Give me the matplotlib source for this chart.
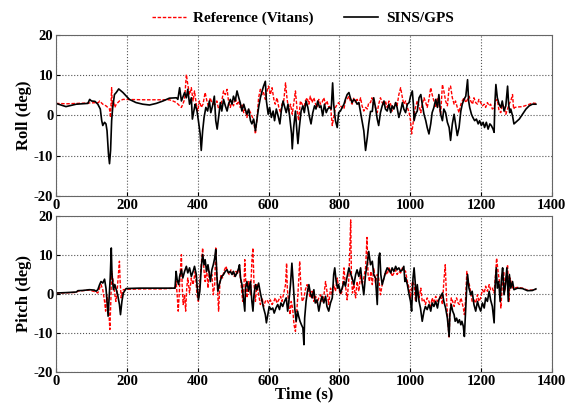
import numpy as np
from matplotlib import pyplot as plt

plt.rcParams['font.family'] = ['Liberation Serif', 'DejaVu Serif']
plt.rcParams['font.weight'] = 'bold'
plt.rcParams['axes.unicode_minus'] = False

# roll, SINS/GPS
roll_t = [0, 28, 57, 90, 95, 100, 110, 118, 125, 129, 132, 137, 141, 144, 148, 151, 154, 157, 160, 165,
          170, 177, 189, 207, 226, 245, 264, 283, 302, 320, 340, 344, 349, 354, 363, 368, 372, 377, 382, 385,
          391, 393, 398, 402, 407, 410, 414, 418, 423, 428, 433, 437, 442, 447, 451, 455, 459, 464, 468, 473,
          478, 483, 487, 492, 497, 501, 506, 511, 516, 520, 525, 530, 534, 539, 544, 549, 553, 558, 563, 567,
          572, 577, 582, 586, 591, 594, 599, 603, 608, 613, 617, 622, 627, 632, 636, 641, 646, 650, 655, 660,
          665, 667, 671, 676, 680, 683, 687, 692, 697, 701, 706, 711, 715, 720, 725, 730, 734, 739, 744, 748,
          753, 758, 763, 767, 772, 777, 781, 784, 789, 794, 798, 803, 808, 813, 817, 822, 827, 831, 836, 841,
          846, 850, 855, 860, 864, 869, 874, 879, 883, 888, 893, 897, 902, 907, 911, 916, 921, 926, 930, 935,
          940, 945, 949, 954, 959, 963, 968, 973, 978, 982, 987, 992, 997, 1001, 1006, 1009, 1011, 1015, 1020, 1025,
          1030, 1034, 1039, 1044, 1048, 1053, 1058, 1062, 1067, 1072, 1077, 1081, 1086, 1091, 1095, 1100, 1105, 1110, 1114, 1119,
          1124, 1128, 1133, 1138, 1143, 1147, 1152, 1157, 1162, 1165, 1168, 1173, 1177, 1182, 1187, 1192, 1196, 1201, 1206, 1210,
          1215, 1220, 1225, 1229, 1234, 1237, 1239, 1242, 1246, 1251, 1256, 1260, 1265, 1270, 1275, 1278, 1281, 1284, 1289, 1293,
          1298, 1308, 1317, 1327, 1336, 1345, 1355]
roll_sins = [3.0, 2.2, 2.8, 3.0, 4.0, 3.6, 3.5, 2.8, 1.6, -1.3, -2.5, -1.7, -2.1, -3.8, -9.5, -12.0, -8.7, -1.3, 2.0, 5.2,
             5.7, 6.6, 5.7, 4.0, 3.2, 2.8, 2.6, 3.0, 3.6, 4.3, 4.4, 4.0, 6.9, 3.6, 5.7, 4.4, 6.5, 2.8, 4.4, -0.9,
             2.0, 2.8, 1.1, -1.3, -4.6, -8.7, -3.8, -0.5, 2.0, 1.1, 3.6, 0.7, 2.4, 4.8, -1.3, -3.4, -0.5, 3.2, 1.1, 4.0,
             2.4, 1.1, 2.8, 4.0, 2.8, 4.8, 3.6, 6.1, 4.4, 3.2, 1.1, 2.8, 1.6, 0.3, 1.6, -1.3, -2.1, -0.9, -3.8, -1.3,
             2.0, 4.4, 6.1, 7.3, 8.5, 3.6, 0.3, 2.0, -0.5, 1.1, -1.3, 1.6, -0.1, -2.1, 1.1, 3.6, 2.0, 0.7, 2.8, -0.5,
             -4.6, -8.3, -3.0, 1.1, -3.8, -7.0, -3.0, 1.1, 2.4, 0.7, 3.6, 2.0, -0.1, -2.1, 0.7, 2.4, 1.6, 3.6, 2.0, 2.4,
             -0.1, 2.8, 0.7, 1.6, 2.0, 1.6, 8.1, 2.8, -1.3, -3.0, 0.7, 1.1, 2.0, 2.8, 4.0, 5.2, 5.7, 4.4, 3.2, 4.0,
             3.6, 2.8, 3.2, 0.7, -1.3, -3.8, -8.7, -5.4, -2.1, 1.0, 1.0, 4.4, 2.0, -0.9, -2.5, 0.7, 2.4, 3.6, 1.6, 1.1,
             2.8, 0.7, 2.4, 1.6, 3.2, 2.0, -0.5, 1.1, 3.2, 1.6, 0.7, 2.8, 3.2, 4.8, 6.1, 2.8, -1.3, 0.3, 1.1, 4.4,
             5.2, 2.8, 0.3, -1.3, -3.0, -4.6, -2.1, 0.7, 2.0, 4.0, 2.0, 5.2, 0.3, -1.3, 1.6, 0.7, -1.7, -3.0, -6.2, -2.1,
             0.3, -2.1, -5.0, -3.0, 1.1, 2.8, 4.0, 4.8, 8.9, 3.6, 2.0, 0.3, -0.5, -1.3, -0.9, -2.1, -1.3, -2.5, -1.7, -3.0,
             -1.7, -3.4, -2.1, -2.5, -3.4, -4.2, 2.8, 7.7, 4.4, 2.8, 2.0, 3.6, 1.1, 2.4, 7.3, 2.8, 0.7, 1.6, -0.1, -2.1,
             -1.7, -0.9, 0.3, 1.6, 2.4, 2.8, 2.8]

# roll, reference (Vitans)
rref_t = [0, 30, 60, 90, 120, 123, 132, 141, 151, 154, 157, 159, 162, 166, 170, 179, 189, 250, 300, 320,
          330, 340, 349, 354, 358, 363, 368, 372, 377, 382, 387, 391, 396, 400, 405, 410, 415, 421, 426, 431,
          435, 440, 445, 450, 454, 459, 464, 468, 473, 478, 483, 487, 492, 497, 501, 506, 511, 516, 520, 525,
          530, 534, 539, 544, 549, 553, 558, 563, 567, 572, 577, 582, 586, 591, 596, 600, 605, 610, 615, 619,
          624, 629, 634, 638, 643, 648, 652, 657, 662, 667, 671, 676, 681, 685, 690, 695, 700, 704, 709, 714,
          718, 723, 728, 733, 737, 742, 747, 751, 756, 761, 765, 770, 775, 780, 784, 789, 794, 798, 803, 808,
          813, 817, 822, 827, 831, 836, 841, 846, 850, 855, 860, 864, 869, 874, 879, 883, 888, 892, 897, 902,
          907, 911, 916, 921, 926, 930, 935, 940, 945, 949, 954, 959, 963, 968, 973, 978, 982, 987, 992, 997,
          1001, 1004, 1008, 1011, 1015, 1020, 1025, 1030, 1034, 1039, 1044, 1048, 1053, 1058, 1062, 1067, 1072, 1077, 1081, 1086,
          1091, 1095, 1100, 1105, 1110, 1114, 1119, 1124, 1128, 1133, 1138, 1143, 1147, 1152, 1157, 1162, 1166, 1171, 1176, 1180,
          1185, 1190, 1194, 1199, 1204, 1209, 1213, 1218, 1223, 1227, 1232, 1237, 1241, 1246, 1251, 1256, 1260, 1265, 1270, 1275,
          1279, 1284, 1289, 1292, 1295, 1303, 1317, 1331, 1345, 1355]
roll_ref = [3.0, 2.9, 3.0, 3.1, 3.2, 3.6, 2.8, 2.4, 1.6, -0.5, 6.9, 2.0, 3.6, 2.0, 2.8, 3.6, 4.0, 3.9, 3.9, 3.9,
            3.6, 3.2, 2.4, 2.0, 2.8, 4.0, 10.2, 7.7, 5.2, 6.9, 3.6, 6.1, 2.8, 1.1, 3.6, 2.0, 2.8, 5.7, 3.6, 2.0,
            4.4, 3.2, 2.8, 2.8, 3.6, 1.6, 2.0, 3.6, 6.1, 5.2, 6.5, 3.6, 2.0, 3.6, 2.4, 4.4, 2.8, 3.6, 2.0, 2.8,
            0.7, 1.6, -0.5, 1.6, 0.7, -0.1, -1.3, -4.6, -1.3, 4.4, 6.5, 5.2, 5.7, 4.0, 6.1, 7.3, 5.2, 6.9, 4.0, 2.8,
            4.4, 2.0, 0.7, 2.8, 3.6, 8.1, 4.4, 1.1, 2.8, 0.3, 2.8, 6.1, 1.1, -1.3, 3.6, 2.8, 1.6, 3.6, 4.4, 2.8,
            4.8, 3.2, 4.4, 2.8, 2.0, 4.0, 2.8, 3.2, 4.4, 2.8, 3.6, 2.0, 2.4, -2.5, -0.5, 2.0, 2.8, 3.2, 2.4, 2.0,
            1.6, 3.6, 4.0, 4.8, 3.6, 2.8, 4.4, 3.2, 4.0, 2.8, 4.4, 2.4, 1.1, 2.0, 1.6, 3.2, 3.2, 4.4, 2.8, 2.0,
            0.7, 2.8, 4.4, 3.2, 2.4, 3.6, 2.0, 3.6, 2.8, 1.1, 2.0, 3.2, 2.4, 5.2, 6.9, 4.4, 2.8, 3.6, 2.0, 0.7,
            -1.3, -4.6, -2.1, 0.3, 2.0, 3.6, 2.4, 0.7, 2.8, 4.4, 3.2, 2.0, 4.0, 6.9, 5.2, 3.6, 2.0, 4.4, 2.8, 0.3,
            7.7, 6.1, 3.6, 2.4, 6.9, 7.3, 4.4, 2.8, 3.6, 2.0, 0.7, 2.8, 3.6, 4.4, 3.2, 4.0, 4.8, 3.6, 2.8, 4.4,
            3.2, 2.8, 4.0, 3.2, 2.4, 2.8, 2.0, 3.2, 2.4, 2.8, 1.6, 2.0, 3.6, 4.0, 1.1, 0.7, 2.8, 2.0, 0.3, 1.6,
            2.8, 3.6, 5.2, 1.6, 2.0, 2.1, 2.2, 2.6, 3.1, 3.0]

# pitch, SINS/GPS
pitch_t = [0, 28, 57, 62, 75, 94, 108, 113, 118, 123, 127, 132, 137, 141, 144, 147, 150, 153, 156, 158,
           162, 166, 170, 174, 179, 182, 186, 190, 198, 236, 283, 320, 336, 339, 342, 346, 349, 354, 358, 363,
           368, 372, 377, 382, 387, 391, 396, 398, 402, 406, 410, 414, 418, 421, 425, 429, 433, 436, 440, 444,
           448, 451, 454, 457, 461, 465, 468, 473, 478, 483, 487, 492, 497, 501, 506, 511, 516, 518, 521, 525,
           530, 533, 535, 539, 544, 549, 553, 556, 559, 563, 567, 572, 577, 582, 586, 591, 594, 598, 602, 607,
           612, 616, 621, 626, 631, 635, 640, 645, 650, 654, 657, 662, 666, 670, 674, 678, 682, 685, 689, 693,
           697, 700, 702, 706, 710, 714, 718, 723, 728, 732, 737, 742, 747, 751, 756, 761, 765, 770, 775, 780,
           784, 787, 791, 795, 798, 803, 808, 813, 817, 822, 827, 831, 836, 841, 846, 850, 855, 860, 864, 869,
           874, 879, 883, 888, 893, 897, 902, 907, 911, 914, 917, 921, 926, 930, 935, 940, 945, 949, 954, 959,
           963, 968, 973, 978, 982, 985, 987, 992, 997, 1001, 1004, 1008, 1011, 1014, 1017, 1020, 1025, 1029, 1034, 1039,
           1043, 1048, 1053, 1058, 1062, 1067, 1072, 1077, 1081, 1086, 1091, 1095, 1100, 1105, 1110, 1112, 1116, 1120, 1124, 1127,
           1131, 1135, 1139, 1143, 1146, 1150, 1153, 1156, 1160, 1162, 1166, 1171, 1175, 1180, 1185, 1190, 1194, 1199, 1204, 1209,
           1213, 1218, 1223, 1227, 1232, 1237, 1240, 1243, 1246, 1250, 1254, 1258, 1261, 1265, 1269, 1273, 1277, 1280, 1284, 1289,
           1293, 1303, 1317, 1331, 1345, 1355]
pitch_sins = [0.25, 0.35, 0.5, 0.85, 0.9, 1.1, 1.0, 0.7, 1.1, 2.4, 3.2, 2.8, 3.8, 1.5, -1.9, -5.7, -1.0, 4.1, 11.8, 5.0,
              1.1, 2.4, 1.1, -0.2, -2.7, -5.3, -1.9, 0.25, 1.4, 1.5, 1.5, 1.5, 1.5, 5.8, 3.7, 2.4, 4.5, 6.2, 4.1, 5.8,
              7.1, 5.4, 6.7, 4.5, 5.8, 7.1, 5.0, 2.4, -1.5, 0.7, 6.7, 10.1, 7.5, 8.8, 5.8, 7.5, 5.0, 3.2, 6.2, 7.5,
              9.2, 11.4, 5.0, 0.7, 2.4, 3.7, 4.5, 5.0, 5.8, 6.2, 5.4, 5.8, 5.0, 5.8, 4.5, 5.4, 6.7, 7.5, 4.1, 2.4,
              -1.9, -4.4, 1.5, 3.2, 0.7, 3.2, -1.9, -4.4, -0.2, 2.4, 1.1, 2.8, 0.25, -1.9, -3.6, -5.3, -7.4, -5.3, -3.2, -4.0,
              -3.6, -4.9, -3.6, -2.7, -4.0, -2.3, -3.2, -1.9, -1.0, -4.4, -2.3, 2.4, 7.9, 2.4, -3.6, -7.0, -4.4, -5.7, -7.0, -7.9,
              -8.7, -13.0, -6.2, -1.9, 0.7, 2.4, 0.25, -1.0, 1.1, -2.3, -1.5, -4.4, -1.9, -0.6, -2.3, -0.6, -3.2, -4.4, -2.3, -1.0,
              5.0, 6.7, 3.2, 1.5, 2.4, 0.25, 1.5, 3.2, 2.0, 4.5, 6.7, 5.4, 4.1, 2.4, 5.0, 6.2, 4.5, 6.7, 3.2, -0.2,
              5.0, 7.9, 10.9, 7.5, 8.4, 5.0, 4.1, -2.7, 9.2, 10.5, 5.0, 2.4, 4.1, 5.4, 6.7, 6.2, 5.4, 6.7, 5.8, 7.1,
              6.2, 6.7, 5.8, 6.2, 7.1, 3.2, 4.1, 2.4, -0.2, -1.9, -4.4, 4.1, 6.7, 3.2, -1.9, 2.4, -1.9, -3.6, -7.0, -4.4,
              -3.2, -4.0, -2.7, -4.4, -2.3, -3.2, -1.9, -3.6, -1.5, -0.6, 0.25, -1.9, -3.6, -6.2, -10.9, -5.3, -2.7, -4.4, -5.3, -7.0,
              -6.2, -7.4, -6.6, -7.9, -7.0, -8.3, -10.9, -5.3, 2.4, 5.0, 1.5, -0.2, 0.7, -2.7, -4.4, -1.9, -3.2, -4.4, -2.3, -3.6,
              -1.0, -1.9, 0.7, -1.5, -3.2, -7.4, 2.4, 6.7, 1.5, 3.2, -1.9, 4.1, 6.7, -0.2, 2.4, 6.7, -1.9, 5.0, 1.5, 3.2,
              1.1, 1.5, 1.4, 0.85, 0.9, 1.3]

# pitch, reference (Vitans)
pref_t = [0, 57, 62, 94, 113, 118, 123, 127, 132, 137, 140, 143, 146, 149, 152, 155, 157, 160, 163, 166,
          169, 172, 176, 179, 181, 184, 187, 190, 198, 250, 300, 336, 339, 342, 345, 348, 351, 354, 356, 359,
          363, 366, 369, 372, 377, 382, 387, 393, 398, 402, 406, 410, 414, 418, 421, 425, 429, 433, 436, 440,
          444, 448, 451, 455, 459, 463, 466, 470, 474, 480, 484, 489, 494, 499, 503, 508, 512, 517, 522, 527,
          530, 533, 536, 539, 544, 549, 553, 556, 559, 563, 567, 572, 577, 582, 586, 591, 596, 600, 605, 610,
          615, 619, 624, 629, 634, 638, 643, 648, 651, 653, 657, 661, 664, 668, 672, 676, 679, 682, 685, 688,
          691, 695, 700, 704, 709, 714, 718, 723, 728, 733, 737, 742, 747, 751, 756, 761, 765, 770, 775, 780,
          784, 789, 794, 798, 803, 808, 813, 817, 822, 827, 832, 834, 837, 841, 846, 850, 855, 860, 864, 869,
          874, 878, 881, 885, 889, 893, 897, 902, 907, 911, 916, 921, 926, 930, 935, 940, 945, 949, 954, 959,
          963, 968, 973, 978, 982, 987, 992, 997, 1001, 1006, 1011, 1015, 1020, 1025, 1030, 1034, 1039, 1043, 1048, 1053,
          1058, 1062, 1067, 1072, 1077, 1081, 1086, 1091, 1095, 1099, 1103, 1107, 1110, 1112, 1116, 1120, 1124, 1128, 1131, 1135,
          1139, 1143, 1146, 1150, 1153, 1156, 1160, 1163, 1167, 1171, 1175, 1180, 1185, 1190, 1194, 1199, 1204, 1209, 1213, 1218,
          1223, 1227, 1232, 1237, 1241, 1244, 1248, 1252, 1256, 1260, 1264, 1267, 1271, 1275, 1279, 1282, 1286, 1290, 1303, 1317,
          1331, 1345, 1355]
pitch_ref = [0.2, 0.4, 0.75, 1.0, 0.5, 0.25, 1.5, 2.4, 1.1, -1.9, -4.4, -0.2, -1.5, -4.4, -9.1, -1.0, 5.8, 4.1, 2.4, -0.2,
             -1.9, 0.25, 5.0, 8.4, 3.2, -1.0, 0.25, 1.1, 1.2, 1.3, 1.3, 1.5, 3.2, -0.2, -4.4, 0.25, 5.8, 10.1, 2.4, -2.7,
             -0.2, -4.4, 1.5, 4.1, 0.25, 4.1, 2.4, 5.8, -0.2, -1.9, 3.2, 7.5, 11.8, 5.8, 3.2, 6.7, 1.5, 5.8, 4.1, 5.0,
             -0.2, 2.4, 11.8, 3.2, -4.4, 3.2, 5.0, 4.1, 5.8, 7.1, 5.8, 5.0, 6.2, 5.4, 4.5, 5.8, 5.0, 7.1, 3.2, -1.9,
             0.25, 8.8, 2.4, -1.0, 3.2, -0.2, 8.4, 11.8, 2.4, -1.9, 2.4, -0.2, -2.7, -1.0, -3.2, -1.9, -1.5, -2.3, -1.5, -2.7,
             -1.9, -1.0, -2.3, -1.5, -0.6, -1.9, 0.25, 2.4, 7.9, 1.5, -2.7, -5.3, -1.9, -3.6, -7.9, -9.6, -5.3, -1.5, 3.2, 8.4,
             2.4, -1.9, -1.0, 1.1, 2.4, 0.25, -1.0, 0.7, -1.9, -0.6, -2.3, -1.0, -0.2, -1.9, -0.6, 3.2, 0.7, -2.7, 1.5, -0.2,
             2.4, 0.7, 4.1, 1.5, -0.2, 0.7, 6.7, 2.4, -1.5, 4.1, 19.0, 5.0, 0.25, 2.4, -1.0, 3.2, 0.7, 5.0, 2.4, 4.1,
             6.7, 14.5, 5.0, 3.2, 5.8, 2.4, 6.7, 2.8, 5.0, 4.1, -0.2, 2.4, 4.1, 5.8, 5.0, 6.7, 5.8, 4.5, 5.4, 6.2,
             5.0, 5.8, 5.4, 6.7, 6.2, 5.8, 3.2, 1.5, -1.0, 3.2, 2.4, -1.9, 0.7, -1.0, 1.5, -1.9, -1.5, -2.7, -1.0, -1.9,
             -3.2, -1.0, -2.3, -0.6, -1.9, -1.5, -0.2, -2.7, 3.2, 7.5, -1.9, -7.9, -11.3, -5.3, -1.0, -1.9, -3.2, -1.5, -1.0, -2.3,
             -2.7, -1.0, -1.9, -3.6, -5.3, -1.9, 5.8, 3.2, 2.4, 0.25, -1.9, -1.5, -2.3, -0.2, -1.9, -1.0, 1.1, 0.25, 2.0, 0.7,
             2.4, 1.1, 1.5, 0.25, 5.0, 9.2, 5.8, 3.2, -3.6, 2.4, 5.8, 0.7, 4.1, 7.5, -1.9, 4.1, 2.4, 1.5, 1.7, 1.5,
             1.0, 1.0, 1.2]

fig = plt.figure(figsize=(5.66, 4.03), dpi=100)
ax1 = fig.add_axes([0.099, 0.514, 0.876, 0.399])
ax2 = fig.add_axes([0.099, 0.077, 0.876, 0.387])

for ax, tr, vr, ts, vs, lab in [(ax1, rref_t, roll_ref, roll_t, roll_sins, 'Roll (deg)'),
                                (ax2, pref_t, pitch_ref, pitch_t, pitch_sins, 'Pitch (deg)')]:
    ax.plot(tr, vr, color='red', ls='--', lw=1.0, dashes=(2.5, 1.2), label='Reference (Vitans)')
    ax.plot(ts, vs, color='black', lw=1.2, label='SINS/GPS')
    ax.set_xlim(0, 1400)
    ax.set_ylim(-20, 20)
    ax.set_xticks(np.arange(0, 1401, 200))
    ax.set_yticks(np.arange(-20, 21, 10))
    ax.grid(True, ls=':', color='#555555', lw=0.8)
    ax.tick_params(direction='in', length=3, labelsize=10.5, pad=2)
    ax.set_ylabel(lab, fontsize=12, fontweight='bold', labelpad=1)
    for s in ax.spines.values():
        s.set_color('#666666')
    for t in ax.get_xticklabels() + ax.get_yticklabels():
        t.set_fontweight('bold')

ax2.set_xlabel('Time (s)', fontsize=12, fontweight='bold', labelpad=-1)

h, l = ax1.get_legend_handles_labels()
fig.legend(h, l, loc='center', bbox_to_anchor=(0.535, 0.955), ncol=2, frameon=False,
           prop={'size': 11, 'weight': 'bold'}, handlelength=2.2, columnspacing=2.0,
           handletextpad=0.5)

fig.savefig('out.png', dpi=100)
